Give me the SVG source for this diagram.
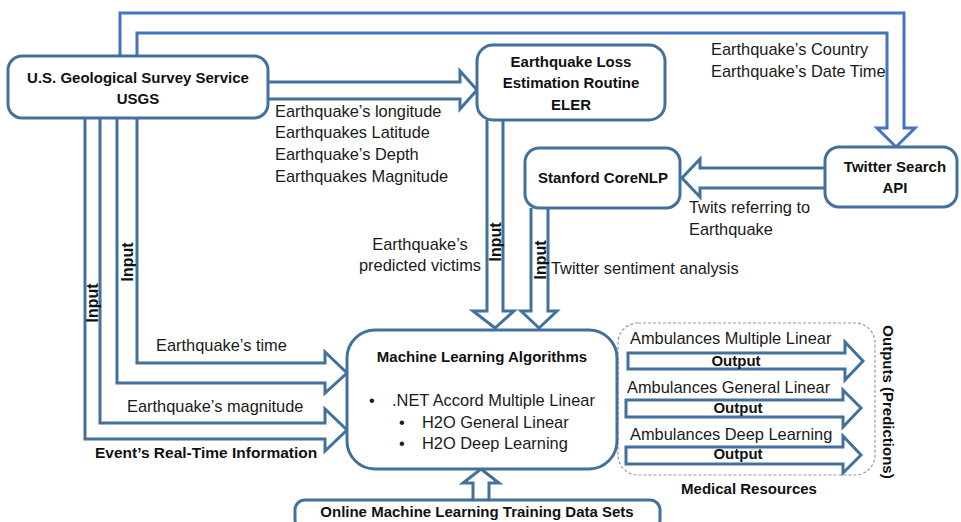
<svg xmlns="http://www.w3.org/2000/svg" width="961" height="522" viewBox="0 0 961 522">
<style>
.node{fill:#fff;stroke:#41719c;stroke-width:3}
.conn{fill:none;stroke:#41719c;stroke-width:3;stroke-linejoin:miter}
.top{fill:none;stroke:#4472c4;stroke-width:3}
.out{fill:#fff;stroke:#41719c;stroke-width:3}
.b{font-family:"Liberation Sans",Arial,sans-serif;font-weight:bold;font-size:15px;fill:#111}
.r{font-family:"Liberation Sans",Arial,sans-serif;font-size:16.4px;fill:#1a1a1a}
.c{text-anchor:middle}
</style>
<rect width="961" height="522" fill="#fff"/>
<g id="connectors">
<path class="top" d="M120,56 V13 H904 V128 H915 L896,147 L877,128 H887 V33 H137 V56"/>
<path class="conn" d="M268,82 H460 V71 L477,90 L460,109 V99 H268"/>
<path class="conn" d="M825,168 H700 V159 L682,178 L700,197 V188 H825"/>
<path class="conn" d="M487,120 V311 H473 L495,328 L514,311 H503 V120"/>
<path class="conn" d="M531,208 V311 H521 L539,328 L557,311 H548 V208"/>
<path class="conn" d="M137,118 V363 H325 V352 L347,373 L325,393 V383 H117 V118"/>
<path class="conn" d="M100,118 V423 H325 V409 L347,430 L325,451 V439 H85 V118"/>
<path class="conn" d="M473,500 V483 H463 L481,469 L499,483 H489 V500"/>
<rect x="618" y="323" width="257" height="152" rx="20" fill="none" stroke="#9a9a9a" stroke-width="1.2" stroke-dasharray="3,2"/>
<path class="out" d="M628,353 H845 V342 L863,361 L845,380 V369 H628 Z"/>
<path class="out" d="M626,400 H843 V390 L861,408 L843,427 V417 H626 Z"/>
<path class="out" d="M626,447 H843 V436 L861,455 L843,473 V464 H626 Z"/>
<text class="b c" style="font-size:16px" transform="translate(98,303) rotate(-90)">Input</text>
<text class="b c" style="font-size:16px" transform="translate(133,262) rotate(-90)">Input</text>
<text class="b c" style="font-size:16px" transform="translate(501,242) rotate(-90)">Input</text>
<text class="b c" style="font-size:16px" transform="translate(546,260) rotate(-90)">Input</text>
<text class="r" x="275" y="117">Earthquake’s longitude</text>
<text class="r" x="275" y="138">Earthquakes Latitude</text>
<text class="r" x="275" y="160">Earthquake’s Depth</text>
<text class="r" x="275" y="182">Earthquakes Magnitude</text>
<text class="r" x="711" y="55">Earthquake’s Country</text>
<text class="r" x="711" y="77">Earthquake’s Date Time</text>
<text class="r" x="689" y="213">Twits referring to</text>
<text class="r" x="689" y="235">Earthquake</text>
<text class="r c" x="420" y="250">Earthquake’s</text>
<text class="r c" x="420" y="271">predicted victims</text>
<text class="r" x="551" y="274">Twitter sentiment analysis</text>
<text class="r" x="156" y="351">Earthquake’s time</text>
<text class="r" x="127" y="412">Earthquake’s magnitude</text>
<text class="b" x="95" y="458" style="font-size:15.5px">Event’s Real-Time Information</text>
<text class="r" x="630" y="344">Ambulances Multiple Linear</text>
<text class="r" x="627" y="393">Ambulances General Linear</text>
<text class="r" x="630" y="440">Ambulances Deep Learning</text>
<text class="b c" x="736" y="366">Output</text>
<text class="b c" x="738" y="413">Output</text>
<text class="b c" x="738" y="459">Output</text>
<text class="b c" x="749" y="494">Medical Resources</text>
<text class="b c" transform="translate(883,402) rotate(90)">Outputs (Predictions)</text>
</g>
<g id="usgs">
<rect class="node" x="8" y="56" width="260" height="62" rx="14"/>
<text class="b c" x="138" y="83">U.S. Geological Survey Service</text>
<text class="b c" x="138" y="104">USGS</text>
</g>
<g id="eler">
<rect class="node" x="477" y="45" width="188" height="75" rx="16"/>
<text class="b c" x="571" y="67">Earthquake Loss</text>
<text class="b c" x="571" y="88">Estimation Routine</text>
<text class="b c" x="571" y="110">ELER</text>
</g>
<g id="twitter">
<rect class="node" x="825" y="147" width="132" height="60" rx="14"/>
<text class="b c" x="895" y="172">Twitter Search</text>
<text class="b c" x="895" y="193">API</text>
</g>
<g id="stanford">
<rect class="node" x="525" y="148" width="155" height="60" rx="14"/>
<text class="b c" x="603" y="183">Stanford CoreNLP</text>
</g>
<g id="ml">
<rect class="node" x="347" y="330" width="270" height="139" rx="28"/>
<text class="b c" x="482" y="362">Machine Learning Algorithms</text>
<text class="r" x="369" y="406">•</text>
<text class="r" x="392" y="406">.NET Accord Multiple Linear</text>
<text class="r" x="399" y="428">•</text>
<text class="r" x="422" y="428">H2O General Linear</text>
<text class="r" x="399" y="449">•</text>
<text class="r" x="422" y="449">H2O Deep Learning</text>
</g>
<g id="online">
<rect class="node" x="295" y="500" width="365" height="30" rx="10"/>
<text class="b c" x="477" y="517">Online Machine Learning Training Data Sets</text>
</g>
</svg>
